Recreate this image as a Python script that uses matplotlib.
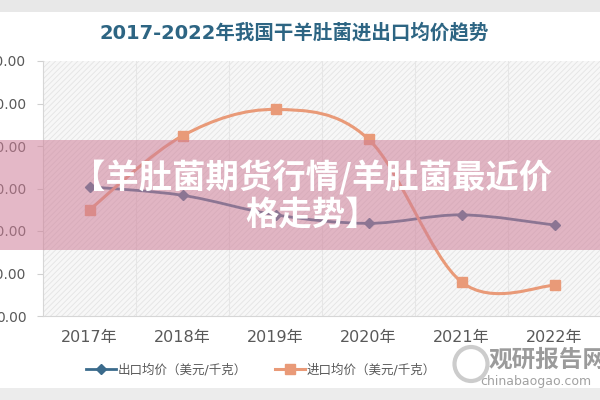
import numpy as np
import matplotlib.pyplot as plt
from matplotlib.path import Path
from matplotlib.patches import PathPatch, Rectangle, Ellipse
from matplotlib.lines import Line2D

plt.rcParams['font.family'] = ['DejaVu Sans', 'Noto Sans CJK SC']
plt.rcParams['hatch.linewidth'] = 0.6

years = ['2017年', '2018年', '2019年', '2020年', '2021年', '2022年']
export_price = [152, 142, 119, 109, 119, 107]
import_price = [125, 212, 243, 208, 40, 36]
yticks = [0, 50, 100, 150, 200, 250, 300]

title = '2017-2022年我国干羊肚菌进出口均价趋势'
banner = '【羊肚菌期货行情/羊肚菌最近价\n格走势】'
export_label = '出口均价（美元/千克）'
import_label = '进口均价（美元/千克）'

blue = '#3b6b8c'
orange = '#e99a78'
grey = '#595959'


def smooth_path(xs, ys):
    # catmull-rom style bezier, roughly what excel does for smoothed lines
    pts = np.column_stack([xs, ys]).astype(float)
    verts = [pts[0]]
    codes = [Path.MOVETO]
    n = len(pts)
    for i in range(n - 1):
        p0 = pts[i - 1] if i > 0 else pts[i]
        p1 = pts[i]
        p2 = pts[i + 1]
        p3 = pts[i + 2] if i + 2 < n else pts[i + 1]
        c1 = p1 + (p2 - p0) / 6
        c2 = p2 - (p3 - p1) / 6
        verts += [c1, c2, p2]
        codes += [Path.CURVE4] * 3
    return Path(verts, codes)


fig = plt.figure(figsize=(6, 4), dpi=100)
ax = fig.add_axes([0.0717, 0.21, 0.93, 0.6375])

x = np.arange(len(years))
ax.set_xlim(-0.5, len(years) - 0.5)
ax.set_ylim(0, 300)

# hatched plot background
ax.add_patch(Rectangle((0, 0), 1, 1, transform=ax.transAxes, facecolor='#f7f7f7',
                       edgecolor='#e4e4e4', hatch='//////', lw=0, zorder=0))

ax.set_xticks(x)
ax.set_xticklabels(years, fontsize=11.5, color=grey)
ax.set_xticks(x[:-1] + 0.5, minor=True)
ax.grid(True, which='minor', axis='x', color='#e6e6e6', lw=0.8)
ax.tick_params(axis='x', which='both', length=0, pad=10)
ax.set_yticks(yticks)
ax.set_yticklabels(['%.2f' % v for v in yticks], fontsize=10, color=grey)
ax.tick_params(axis='y', length=4, color='#d0d0d0', pad=8)
for s in ['top', 'right']:
    ax.spines[s].set_visible(False)
ax.spines['left'].set_color('#d6d6d6')
ax.spines['bottom'].set_color('#d6d6d6')

ax.add_patch(PathPatch(smooth_path(x, export_price), fill=False, edgecolor=blue, lw=2, zorder=3))
ax.plot(x, export_price, ls='none', marker='D', ms=5, color=blue, zorder=4)
ax.add_patch(PathPatch(smooth_path(x, import_price), fill=False, edgecolor=orange, lw=2.2, zorder=3))
ax.plot(x, import_price, ls='none', marker='s', ms=7, color=orange, zorder=4)

handles = [Line2D([], [], color=blue, lw=2, marker='D', ms=5),
           Line2D([], [], color=orange, lw=2.2, marker='s', ms=7)]
fig.legend(handles, [export_label, import_label], loc='center', bbox_to_anchor=(0.435, 0.075),
           ncol=2, frameon=False, fontsize=9, labelcolor=grey, handlelength=2.4,
           handletextpad=0.15, columnspacing=2.2)

fig.text(0.49, 0.918, title, ha='center', va='center', fontsize=14, fontweight='bold',
         color='#2d6583')

# grey bands at the top and bottom of the image
fig.patches.append(Rectangle((0, 0.97), 1, 0.03, transform=fig.transFigure,
                             facecolor='#e8e8e8', lw=0))
fig.patches.append(Rectangle((0, 0), 1, 0.03, transform=fig.transFigure,
                             facecolor='#ececec', lw=0))

# watermark
fig.add_artist(Ellipse((0.785, 0.09), 0.055, 0.085, transform=fig.transFigure, fill=False,
                       edgecolor='#9a9a9a', lw=3, alpha=0.5))
fig.text(0.815, 0.1, '观研报告网', fontsize=17, fontweight='bold', color='#7a7a7a',
         alpha=0.75, va='center', family=['Noto Sans CJK SC'])
fig.text(0.80, 0.045, 'chinabaogao.com', fontsize=9, color='#8a8a8a', alpha=0.8, va='center')

# pink banner on top
fig.add_artist(Rectangle((0, 0.375), 1, 0.275, transform=fig.transFigure,
                         facecolor='#cf7f99', alpha=0.55, lw=0, zorder=10))
fig.text(0.52, 0.51, banner, ha='center', va='center', fontsize=24, fontweight='heavy',
         color='white', linespacing=1.1, zorder=11, family=['Noto Sans CJK SC'])

fig.savefig('out.png', dpi=100)
